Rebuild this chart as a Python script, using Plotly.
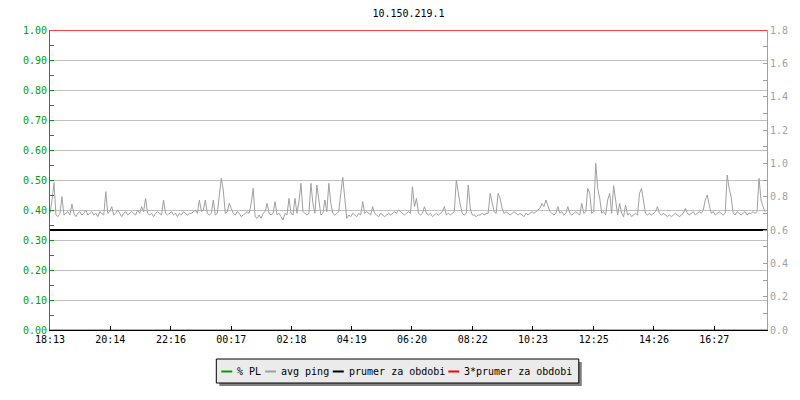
import plotly.graph_objects as go

# ---------------- data ----------------
title_text = "10.150.219.1"
tick_minutes = [0, 121, 243, 364, 485, 606, 727, 849, 970, 1092, 1213, 1334]
tick_labels = ["18:13", "20:14", "22:16", "00:17", "02:18", "04:19",
               "06:20", "08:22", "10:23", "12:25", "14:26", "16:27"]
period_minutes = 1440
sample_step_min = 4

avg_ping = [
    0.70, 0.776, 0.884, 0.69, 0.68, 0.70, 0.80, 0.69, 0.70, 0.71, 0.69, 0.756, 0.70, 0.68, 0.70, 0.71, 0.69, 0.70, 0.72, 0.69,
    0.70, 0.71, 0.69, 0.70, 0.68, 0.71, 0.70, 0.69, 0.83, 0.70, 0.71, 0.74, 0.69, 0.70, 0.72, 0.70, 0.68, 0.70, 0.71, 0.69,
    0.70, 0.71, 0.70, 0.69, 0.72, 0.70, 0.74, 0.71, 0.79, 0.70, 0.69, 0.70, 0.68, 0.70, 0.71, 0.70, 0.69, 0.78, 0.70, 0.69,
    0.70, 0.71, 0.69, 0.70, 0.68, 0.70, 0.69, 0.71, 0.70, 0.69, 0.70, 0.70, 0.71, 0.72, 0.70, 0.78, 0.71, 0.72, 0.78, 0.70,
    0.69, 0.70, 0.78, 0.69, 0.70, 0.80, 0.91, 0.84, 0.70, 0.71, 0.76, 0.73, 0.70, 0.69, 0.71, 0.70, 0.68, 0.69, 0.70, 0.71,
    0.70, 0.76, 0.85, 0.68, 0.67, 0.69, 0.67, 0.70, 0.71, 0.76, 0.70, 0.69, 0.70, 0.77, 0.69, 0.70, 0.68, 0.66, 0.70, 0.69,
    0.79, 0.70, 0.69, 0.79, 0.70, 0.77, 0.88, 0.71, 0.70, 0.69, 0.70, 0.88, 0.76, 0.70, 0.87, 0.77, 0.69, 0.70, 0.78, 0.71,
    0.88, 0.76, 0.70, 0.69, 0.70, 0.71, 0.82, 0.916, 0.79, 0.67, 0.69, 0.68, 0.70, 0.69, 0.68, 0.70, 0.69, 0.77, 0.70, 0.71,
    0.70, 0.69, 0.74, 0.70, 0.69, 0.68, 0.70, 0.69, 0.68, 0.69, 0.70, 0.69, 0.70, 0.71, 0.70, 0.72, 0.71, 0.70, 0.69, 0.70,
    0.71, 0.70, 0.86, 0.74, 0.79, 0.70, 0.69, 0.70, 0.74, 0.70, 0.69, 0.70, 0.68, 0.69, 0.70, 0.69, 0.70, 0.71, 0.74, 0.69,
    0.70, 0.69, 0.70, 0.71, 0.90, 0.81, 0.75, 0.70, 0.69, 0.70, 0.87, 0.73, 0.69, 0.69, 0.68, 0.69, 0.69, 0.70, 0.69, 0.70,
    0.70, 0.82, 0.76, 0.71, 0.70, 0.82, 0.79, 0.73, 0.70, 0.71, 0.70, 0.69, 0.70, 0.71, 0.70, 0.69, 0.70, 0.69, 0.68, 0.70,
    0.69, 0.70, 0.71, 0.70, 0.71, 0.72, 0.73, 0.76, 0.74, 0.78, 0.75, 0.71, 0.70, 0.69, 0.70, 0.74, 0.70, 0.71, 0.69, 0.70,
    0.74, 0.70, 0.69, 0.70, 0.71, 0.70, 0.69, 0.76, 0.70, 0.71, 0.85, 0.82, 0.70, 0.71, 1.00, 0.85, 0.79, 0.70, 0.71, 0.69,
    0.78, 0.82, 0.70, 0.866, 0.77, 0.69, 0.76, 0.70, 0.68, 0.75, 0.69, 0.70, 0.68, 0.69, 0.70, 0.69, 0.82, 0.85, 0.76, 0.70,
    0.69, 0.70, 0.69, 0.70, 0.71, 0.74, 0.70, 0.69, 0.70, 0.69, 0.68, 0.69, 0.68, 0.69, 0.70, 0.69, 0.68, 0.69, 0.70, 0.73,
    0.70, 0.69, 0.70, 0.71, 0.69, 0.70, 0.71, 0.70, 0.72, 0.78, 0.81, 0.75, 0.70, 0.71, 0.69, 0.70, 0.71, 0.70, 0.69, 0.70,
    0.93, 0.85, 0.80, 0.70, 0.69, 0.71, 0.70, 0.69, 0.70, 0.71, 0.69, 0.70, 0.70, 0.71, 0.70, 0.71, 0.91, 0.78, 0.74, 0.71,
]
ping_times = [i * sample_step_min for i in range(len(avg_ping))]

pl_times = [0, 1440]
pl_values = [0.0, 0.0]
prumer_value = 0.6
prumer3_value = 1.8

legend_names = ["% PL", "avg ping", "prumer za obdobi", "3*prumer za obdobi"]
legend_colors = ["#00a000", "#a0a0a0", "#000000", "#ff0000"]

# ---------------- figure ----------------
FONT = "DejaVu Sans Mono"
GREEN = "#00a000"
GRAY_AX = "#a0a0a0"

fig = go.Figure()
fig.add_trace(go.Scatter(x=pl_times, y=pl_values, mode="lines", name=legend_names[0],
                         line=dict(color=legend_colors[0], width=1), yaxis="y"))
fig.add_trace(go.Scatter(x=ping_times, y=avg_ping, mode="lines", name=legend_names[1],
                         line=dict(color=legend_colors[1], width=1), yaxis="y2"))
fig.add_trace(go.Scatter(x=[0, period_minutes], y=[prumer_value, prumer_value], mode="lines",
                         name=legend_names[2], line=dict(color=legend_colors[2], width=2), yaxis="y2"))
fig.add_trace(go.Scatter(x=[0, period_minutes], y=[prumer3_value, prumer3_value], mode="lines",
                         name=legend_names[3], line=dict(color=legend_colors[3], width=1.5), yaxis="y2"))

L, R, T, B = 50, 30, 30, 70
W, H = 800, 400
PW, PH = W - L - R, H - T - B


def px(x):
    return (x - L) / PW


def py(y):
    return (T + PH - y) / PH


shapes = []
annotations = []
# legend box with shadow
bx0, bx1, by0, by1 = 217, 581, 359, 383
shapes.append(dict(type="rect", xref="paper", yref="paper", x0=px(bx0 + 3), x1=px(bx1 + 3),
                   y0=py(by0 + 3), y1=py(by1 + 3), fillcolor="#808080", line=dict(width=0)))
shapes.append(dict(type="rect", xref="paper", yref="paper", x0=px(bx0), x1=px(bx1),
                   y0=py(by0), y1=py(by1), fillcolor="#ebebeb", line=dict(color="#000000", width=1)))
line_starts = [222, 266, 334, 450]
text_starts = [236, 280, 348, 464]
ly = 371.5
for name, col, ls, ts in zip(legend_names, legend_colors, line_starts, text_starts):
    shapes.append(dict(type="line", xref="paper", yref="paper", x0=px(ls), x1=px(ls + 11),
                       y0=py(ly), y1=py(ly), line=dict(color=col, width=2)))
    annotations.append(dict(text=name, xref="paper", yref="paper", x=px(ts), y=py(ly),
                            xanchor="left", yanchor="middle", showarrow=False,
                            font=dict(family=FONT, size=10, color="#000000")))

fig.update_layout(
    width=W, height=H,
    margin=dict(l=L, r=R, t=T, b=B),
    paper_bgcolor="#ffffff", plot_bgcolor="#ffffff",
    showlegend=False,
    font=dict(family=FONT, size=10, color="#000000"),
    title=dict(text=title_text, x=0.5, xref="paper", xanchor="center",
               y=1 - 13 / H, yref="container", yanchor="middle",
               font=dict(family=FONT, size=10, color="#000000")),
    xaxis=dict(range=[0, period_minutes], tickmode="array", tickvals=tick_minutes, ticktext=tick_labels,
               showgrid=False, zeroline=False, showline=True, linecolor="#000000", linewidth=1,
               ticks="inside", ticklen=4, tickcolor="#000000",
               tickfont=dict(family=FONT, size=10, color="#000000")),
    yaxis=dict(range=[0, 1], dtick=0.1, tick0=0, tickformat=".2f",
               showgrid=True, gridcolor="#c0c0c0", gridwidth=1, zeroline=False,
               showline=True, linecolor=GREEN, linewidth=1,
               ticks="inside", ticklen=4, tickcolor=GREEN,
               minor=dict(dtick=0.05, ticks="inside", ticklen=4, tickcolor=GREEN, showgrid=False),
               tickfont=dict(family=FONT, size=10, color=GREEN)),
    yaxis2=dict(range=[0, 1.8], dtick=0.2, tick0=0, tickformat=".1f", overlaying="y", side="right",
                showgrid=False, zeroline=False, showline=True, linecolor=GRAY_AX, linewidth=1,
                ticks="inside", ticklen=4, tickcolor=GRAY_AX,
                minor=dict(dtick=0.1, ticks="inside", ticklen=4, tickcolor=GRAY_AX, showgrid=False),
                tickfont=dict(family=FONT, size=10, color=GRAY_AX)),
    shapes=shapes,
    annotations=annotations,
)

fig.write_html("out.html", config={"displayModeBar": False},
               post_script="document.body.style.margin='0';document.body.style.padding='0';")
